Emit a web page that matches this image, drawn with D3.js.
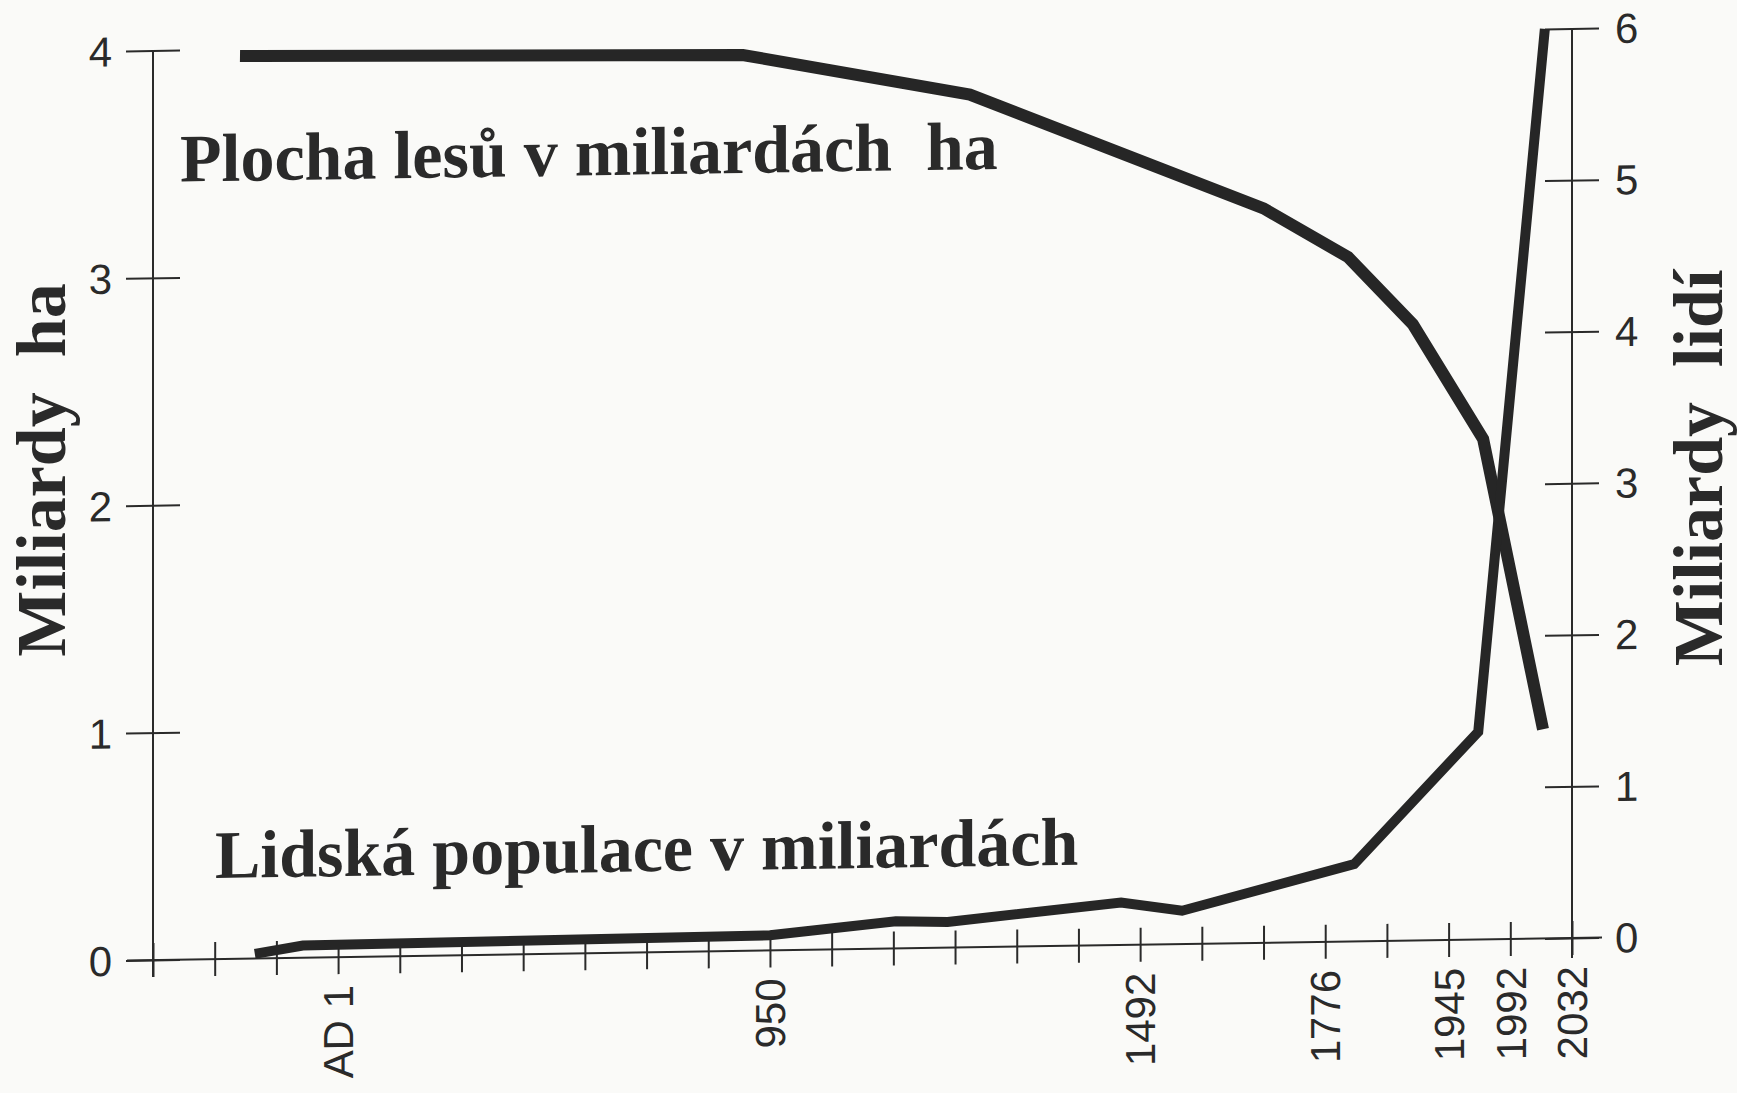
<html>

<head>
    <meta charset="utf-8">
    <title>Plocha lesů a lidská populace</title>

    <style>
        body {
            padding: 0;
            margin: 0;
            background: #fafaf8;
        }

        .axis line {
            stroke: #2a2a2a;
            stroke-width: 2;
        }

        .axis path {
            display: none;
        }

        .tick text {
            font-family: "Liberation Sans", Arial, sans-serif;
            font-size: 42px;
            fill: #2a2a2a;
        }

        .title {
            font-family: "Liberation Serif", "Times New Roman", serif;
            font-weight: bold;
            font-size: 70px;
            fill: #2a2a2a;
        }

        .label {
            font-family: "Liberation Serif", "Times New Roman", serif;
            font-weight: bold;
            font-size: 68px;
            fill: #2a2a2a;
        }

        .series {
            fill: none;
            stroke: #262626;
            stroke-linejoin: miter;
        }
    </style>
</head>

<body>

    <div id="chart"></div>

    <script src="https://d3js.org/d3.v7.min.js"></script>

    <script>
        var width = 1737,
            height = 1093;

        // x axis is an evenly spaced tick index, only some ticks carry a year
        var tickIndex = d3.range(0, 24);
        var labelIndex = [3, 10, 16, 19, 21, 22, 23];
        var yearLabels = ["AD 1", "950", "1492", "1776", "1945", "1992", "2032"];

        var leftTicks = [0, 1, 2, 3, 4];
        var rightTicks = [0, 1, 2, 3, 4, 5, 6];

        // forest area, billions of ha (left axis)
        var forestX = [1.41, 9.56, 13.24, 18.0, 19.37, 20.42, 21.56, 22.53];
        var forestY = [3.97, 3.94, 3.75, 3.23, 3.01, 2.71, 2.20, 0.92];

        // human population, billions (right axis)
        var popX = [1.65, 2.43, 10.0, 12.04, 12.88, 15.69, 16.68, 19.47, 21.48, 22.56];
        var popY = [0.03, 0.08, 0.10, 0.18, 0.17, 0.28, 0.22, 0.51, 1.37, 6.0];

        var margin = {
            top: 50.5,
            left: 153,
            bottom: 133,
            right: 165
        };

        var x = d3.scaleLinear()
            .domain([0, 23])
            .range([margin.left, width - margin.right]);

        var yLeft = d3.scaleLinear()
            .domain([0, 4])
            .range([height - margin.bottom, margin.top]);

        var yRight = d3.scaleLinear()
            .domain([0, 6])
            .range([height - margin.bottom, margin.top]);

        var svg = d3.select("#chart")
            .append("svg")
            .attr("width", width)
            .attr("height", height);

        // the scanned original is slightly sheared, keep that
        var plot = svg.append("g")
            .attr("transform", "translate(" + margin.left + ",0) skewY(-0.888) translate(" + (-margin.left) + ",0)");

        var y0 = yLeft(0);

        // axis lines
        plot.append("line")
            .attr("x1", x(0) - 26).attr("x2", x(23) + 30)
            .attr("y1", y0).attr("y2", y0)
            .attr("stroke", "#2a2a2a").attr("stroke-width", 2);

        plot.append("line")
            .attr("x1", x(0)).attr("x2", x(0))
            .attr("y1", yLeft(4)).attr("y2", y0 + 17)
            .attr("stroke", "#2a2a2a").attr("stroke-width", 2);

        plot.append("line")
            .attr("x1", x(23)).attr("x2", x(23))
            .attr("y1", yRight(6)).attr("y2", y0 + 20)
            .attr("stroke", "#2a2a2a").attr("stroke-width", 2);

        // x axis
        var xAxis = plot.append("g")
            .attr("class", "axis")
            .attr("transform", "translate(0," + y0 + ")")
            .call(d3.axisBottom(x)
                .tickValues(tickIndex)
                .tickSizeOuter(0)
                .tickFormat(function (d) {
                    var k = labelIndex.indexOf(d);
                    return k < 0 ? "" : yearLabels[k];
                }));

        xAxis.selectAll(".tick line")
            .attr("y1", -17)
            .attr("y2", 17);

        xAxis.selectAll(".tick text")
            .attr("transform", "rotate(-90)")
            .attr("text-anchor", "end")
            .attr("x", -28)
            .attr("y", 0)
            .attr("dy", "0.35em");

        // left axis
        var leftAxis = plot.append("g")
            .attr("class", "axis")
            .attr("transform", "translate(" + x(0) + ",0)")
            .call(d3.axisLeft(yLeft)
                .tickValues(leftTicks)
                .tickFormat(d3.format("d"))
                .tickSizeOuter(0));

        leftAxis.selectAll(".tick line")
            .attr("x1", -27)
            .attr("x2", 27);

        leftAxis.selectAll(".tick text")
            .attr("x", -41)
            .attr("dy", "0.35em");

        // right axis
        var rightAxis = plot.append("g")
            .attr("class", "axis")
            .attr("transform", "translate(" + x(23) + ",0)")
            .call(d3.axisRight(yRight)
                .tickValues(rightTicks)
                .tickFormat(d3.format("d"))
                .tickSizeOuter(0));

        rightAxis.selectAll(".tick line")
            .attr("x1", -27)
            .attr("x2", 27);

        rightAxis.selectAll(".tick text")
            .attr("x", 43)
            .attr("dy", "0.35em");

        // series
        var forestLine = d3.line()
            .x(function (d, i) { return x(forestX[i]); })
            .y(function (d) { return yLeft(d); });

        var popLine = d3.line()
            .x(function (d, i) { return x(popX[i]); })
            .y(function (d) { return yRight(d); });

        plot.append("path")
            .datum(forestY)
            .attr("class", "series")
            .attr("stroke-width", 12)
            .attr("d", forestLine);

        plot.append("path")
            .datum(popY)
            .attr("class", "series")
            .attr("stroke-width", 10)
            .attr("d", popLine);

        // series labels
        plot.append("text")
            .attr("class", "label")
            .attr("x", 180)
            .attr("y", 182)
            .text("Plocha lesů v miliardách\u00a0 ha");

        plot.append("text")
            .attr("class", "label")
            .attr("x", 215)
            .attr("y", 879)
            .text("Lidská populace v miliardách");

        // axis titles
        svg.append("text")
            .attr("class", "title")
            .attr("text-anchor", "middle")
            .attr("transform", "translate(65,470) rotate(-90)")
            .text("Miliardy\u00a0 ha");

        svg.append("text")
            .attr("class", "title")
            .attr("text-anchor", "middle")
            .attr("transform", "translate(1722,468) rotate(-90)")
            .text("Miliardy\u00a0 lidí");
    </script>
</body>

</html>
